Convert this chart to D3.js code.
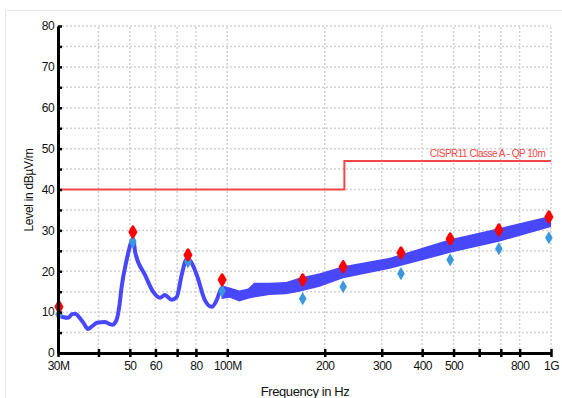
<!DOCTYPE html>
<html>
<head>
<meta charset="utf-8">
<script src="https://cdn.jsdelivr.net/npm/d3@7"></script>
<style>
  body { margin: 0; background: #fff; }
  svg { display: block; font-family: "Liberation Sans", Arial, sans-serif; }
</style>
</head>
<body>
<svg id="chart" width="562" height="398"></svg>
<script>
var traceFreq  = [30, 31, 32.2, 33.2, 33.9, 35, 36, 37.1, 38.2, 39.6, 41.8, 43, 44.2, 45.5, 46.5, 47.1, 48.8, 49.8, 50.7, 51.2, 52, 55.7, 59, 62, 64.1, 67.4, 69.8, 72.3, 75, 76.6, 80.5, 85.2, 89.6, 92.8, 96.1, 101.8];
var traceLevel = [9.2, 8.8, 8.6, 9.5, 9.6, 8.6, 7.3, 5.9, 6.5, 7.4, 7.6, 7.2, 6.9, 8.1, 12, 15.8, 22.5, 25.5, 27.6, 27.9, 24.5, 19.1, 15.0, 13.5, 14.2, 13.0, 13.7, 19.1, 23.0, 22.7, 19.1, 13.0, 11.3, 13.0, 15.9, 14.7];
// noisy part of the trace, drawn as a band
var bandFreq = [96, 101.8, 109, 116, 121, 135, 152, 167, 193, 228, 318, 488, 696, 1000];
var bandLow  = [13.2, 13.5, 12.6, 13.3, 13.6, 14.2, 14.4, 15.0, 16.2, 18.3, 20.6, 24.5, 27.3, 30.8];
var bandHigh = [16.6, 16.0, 15.3, 15.8, 17.2, 17.2, 17.4, 18.4, 19.5, 21.2, 23.3, 27.8, 30.6, 33.6];
// final measurement points
var markFreq  = [30.2, 51.1, 75.6, 96.4, 171, 228, 344, 488, 690, 985];
var peakLevel = [11.3, 29.6, 24.0, 17.9, 17.9, 21.1, 24.5, 27.9, 30.1, 33.3];
var qpLevel   = [9.4, 27.2, 22.3, 15.2, 13.3, 16.2, 19.4, 22.8, 25.5, 28.2];
// limit line
var limitFreq  = [30, 230, 230, 1000];
var limitLevel = [40, 40, 47, 47];
var limitName = "CISPR11 Classe A - QP 10m";
// axes
var xTicks = [30, 40, 50, 60, 70, 80, 100, 200, 300, 400, 500, 600, 700, 800, 1000];
var xTickLabels = {30: "30M", 50: "50", 60: "60", 80: "80", 100: "100M", 200: "200", 300: "300", 400: "400", 500: "500", 800: "800", 1000: "1G"};
var yTicks = d3.range(0, 81, 5);

var svg = d3.select("#chart"),
    margin = { top: 26, left: 58, bottom: 45, right: 11 },
    width = +svg.attr("width"),
    height = +svg.attr("height");

var x = d3.scaleLog().domain([30, 1000]).range([margin.left, width - margin.right]);
var y = d3.scaleLinear().domain([0, 80]).range([height - margin.bottom, margin.top]);

// outer frame
svg.append("rect")
    .attr("x", 5.5).attr("y", 10.5)
    .attr("width", 560).attr("height", 400)
    .attr("fill", "none").attr("stroke", "#e6e6e6");

// grid
var grid = svg.append("g").attr("stroke", "#d2d2d2").attr("stroke-width", 1.5).attr("stroke-dasharray", "2,2");
grid.selectAll(".vg").data(xTicks.slice(1)).enter().append("line")
    .attr("x1", d => x(d)).attr("x2", d => x(d))
    .attr("y1", y(0)).attr("y2", y(80));
grid.selectAll(".hg").data(yTicks.slice(1)).enter().append("line")
    .attr("x1", x(30)).attr("x2", x(1000))
    .attr("y1", d => y(d)).attr("y2", d => y(d));

// limit line
svg.append("path")
    .datum(d3.zip(limitFreq, limitLevel))
    .attr("fill", "none").attr("stroke", "#f24848").attr("stroke-width", 2)
    .attr("d", d3.line().x(d => x(d[0])).y(d => y(d[1])));
svg.append("text")
    .attr("x", x(960)).attr("y", y(47) - 4)
    .attr("text-anchor", "end")
    .attr("fill", "#f24848")
    .attr("font-size", 10).attr("letter-spacing", "-0.5")
    .text(limitName);

// trace
var traceColor = "#4848fa";
svg.append("path")
    .datum(d3.zip(bandFreq, bandLow, bandHigh))
    .attr("fill", traceColor)
    .attr("d", d3.area()
        .x(d => x(d[0])).y0(d => y(d[1])).y1(d => y(d[2])));
svg.append("path")
    .datum(d3.zip(traceFreq, traceLevel))
    .attr("fill", "none").attr("stroke", traceColor).attr("stroke-width", 4)
    .attr("stroke-linejoin", "round")
    .attr("d", d3.line().curve(d3.curveMonotoneX).x(d => x(d[0])).y(d => y(d[1])));

// markers
svg.selectAll(".qp").data(d3.zip(markFreq, qpLevel)).enter().append("path")
    .attr("transform", d => `translate(${x(d[0])},${y(d[1])})`)
    .attr("d", d3.symbol().type(d3.symbolDiamond).size(50)).attr("fill", "#3b98de");
svg.selectAll(".pk").data(d3.zip(markFreq, peakLevel)).enter().append("path")
    .attr("transform", d => `translate(${x(d[0])},${y(d[1])})`)
    .attr("d", d3.symbol().type(d3.symbolDiamond).size(30)).attr("fill", "#ff0000")
    .attr("stroke", "#ff0000").attr("stroke-width", 3).attr("stroke-linejoin", "round");

// axes
var xAxis = svg.append("g")
    .attr("transform", `translate(0,${y(0)})`)
    .call(d3.axisBottom(x).tickValues(xTicks).tickSize(4).tickSizeOuter(0)
        .tickFormat(d => xTickLabels[d] || ""));
var yAxis = svg.append("g")
    .attr("transform", `translate(${x(30)},0)`)
    .call(d3.axisLeft(y).tickValues(yTicks).tickSize(4).tickSizeOuter(0)
        .tickFormat(d => d % 10 == 0 ? d : ""));
[xAxis, yAxis].forEach(function (a) {
    a.select(".domain").attr("stroke", "#000").attr("stroke-width", 3);
    a.selectAll(".tick line").attr("stroke", "#000").attr("stroke-width", 2.5);
    a.selectAll("text").attr("fill", "#111").attr("font-size", 12)
        .attr("letter-spacing", "-0.6").attr("font-family", "Liberation Sans, Arial, sans-serif");
});
xAxis.selectAll(".tick line").attr("y1", -4);
yAxis.selectAll(".tick line").attr("x2", 4);
xAxis.selectAll("text").attr("dy", "0.95em").attr("y", 6);
yAxis.selectAll("text").attr("x", -4);

// axis titles
svg.append("text")
    .attr("x", 305).attr("y", 396)
    .attr("text-anchor", "middle").attr("font-size", 13).attr("letter-spacing", "-0.4")
    .attr("fill", "#111")
    .text("Frequency in Hz");
svg.append("text")
    .attr("transform", "translate(33,190) rotate(-90)")
    .attr("text-anchor", "middle").attr("font-size", 12).attr("letter-spacing", "-0.3")
    .attr("fill", "#111")
    .text("Level in dBµV/m");
</script>
</body>
</html>
